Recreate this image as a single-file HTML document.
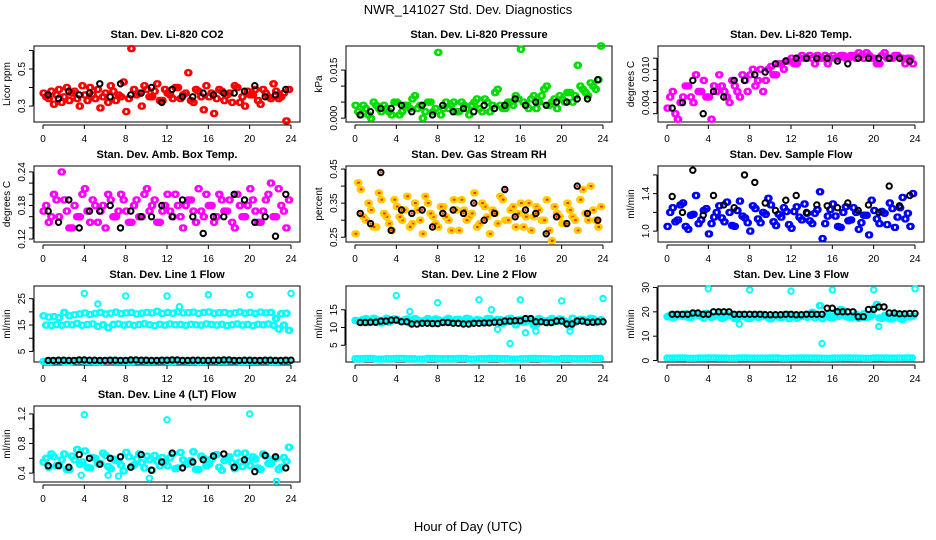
<!DOCTYPE html>
<html><head><meta charset="utf-8"><style>
html,body{margin:0;padding:0;background:#fff;}
svg{display:block;font-family:"Liberation Sans",Arial,sans-serif;}
</style></head><body>
<svg id="chart" width="936" height="540" viewBox="0 0 936 540" xmlns="http://www.w3.org/2000/svg">
<text x="468" y="14" text-anchor="middle" font-size="13">NWR_141027  Std. Dev. Diagnostics</text>
<text x="468" y="531" text-anchor="middle" font-size="13">Hour of Day (UTC)</text>
</svg>
<script>
// ---- data (hours: A series at 0,0.5,...; B series at 0.25,0.75,...; black at 0.5,1.5,...) ----
const co2A=[0.37,0.34,0.31,0.39,0.35,0.33,0.38,0.30,0.36,0.40,0.34,0.29,0.37,0.41,0.33,0.35,0.27,0.61,0.36,0.30,0.39,0.35,0.42,0.33,0.37,0.34,0.40,0.36,0.48,0.32,0.38,0.28,0.35,0.26,0.39,0.33,0.37,0.41,0.32,0.30,0.36,0.39,0.31,0.37,0.34,0.38,0.35,0.22];
const co2B=[0.35,0.38,0.36,0.32,0.40,0.37,0.34,0.41,0.33,0.36,0.39,0.35,0.32,0.38,0.36,0.43,0.34,0.39,0.37,0.41,0.35,0.38,0.33,0.39,0.36,0.40,0.34,0.37,0.33,0.39,0.35,0.41,0.37,0.34,0.38,0.36,0.32,0.40,0.35,0.38,0.36,0.33,0.39,0.35,0.42,0.34,0.37,0.39];
const co2K=[0.36,0.34,0.38,0.36,0.37,0.42,0.35,0.42,0.36,0.37,0.40,0.32,0.39,0.35,0.35,0.37,0.36,0.37,0.37,0.38,0.41,0.35,0.36,0.39];
const prsA=[0.004,0.001,0.003,0.000,0.004,0.002,0.003,0.001,0.005,0.002,0.004,0.006,0.003,0.000,0.005,0.002,0.0205,0.003,0.003,0.005,0.002,0.004,0.001,0.005,0.003,0.006,0.002,0.008,0.004,0.003,0.005,0.007,0.0215,0.004,0.006,0.003,0.007,0.010,0.005,0.003,0.006,0.008,0.005,0.0165,0.009,0.007,0.010,0.012];
const prsB=[0.002,0.004,0.001,0.005,0.003,0.004,0.002,0.005,0.001,0.004,0.003,0.007,0.004,0.002,0.005,0.003,0.001,0.005,0.004,0.002,0.005,0.003,0.004,0.006,0.002,0.005,0.004,0.009,0.003,0.005,0.004,0.006,0.005,0.003,0.007,0.005,0.009,0.004,0.006,0.007,0.005,0.008,0.007,0.010,0.008,0.011,0.009,0.0225];
const prsK=[0.001,0.002,0.003,0.003,0.004,0.002,0.004,0.001,0.004,0.002,0.003,0.002,0.004,0.003,0.004,0.006,0.004,0.005,0.004,0.005,0.005,0.006,0.006,0.012];
const tmpA=[0.003,0.006,0.001,0.005,0.007,0.004,0.006,0.008,0.005,0.007,0.009,0.006,0.004,0.007,0.005,0.008,0.009,0.007,0.010,0.008,0.0105,0.009,0.011,0.0115,0.012,0.011,0.0125,0.012,0.012,0.0125,0.012,0.011,0.0125,0.012,0.0125,0.012,0.0125,0.013,0.012,0.0125,0.012,0.011,0.013,0.012,0.0125,0.012,0.011,0.012];
const tmpB=[0.005,0.002,0.004,0.007,0.005,0.009,0.006,0.005,0.001,0.006,0.007,0.005,0.008,0.006,0.009,0.006,0.010,0.008,0.006,0.010,0.009,0.011,0.010,0.0115,0.011,0.012,0.012,0.0125,0.011,0.012,0.0125,0.012,0.012,0.0125,0.012,0.0125,0.012,0.0125,0.013,0.012,0.011,0.0125,0.012,0.012,0.0125,0.012,0.012,0.011];
const tmpK=[0.003,0.004,0.008,0.002,0.006,0.005,0.008,0.008,0.009,0.0095,0.011,0.0115,0.012,0.012,0.012,0.012,0.0115,0.011,0.012,0.012,0.012,0.012,0.012,0.0115];
const ambA=[0.17,0.15,0.20,0.16,0.19,0.14,0.18,0.16,0.21,0.15,0.18,0.17,0.14,0.19,0.16,0.20,0.17,0.15,0.19,0.16,0.21,0.18,0.15,0.17,0.20,0.16,0.18,0.14,0.19,0.17,0.21,0.16,0.18,0.15,0.20,0.17,0.19,0.14,0.18,0.16,0.21,0.17,0.15,0.19,0.22,0.16,0.18,0.14];
const ambB=[0.18,0.16,0.19,0.24,0.17,0.14,0.16,0.20,0.17,0.19,0.15,0.18,0.20,0.16,0.17,0.19,0.15,0.18,0.16,0.20,0.17,0.19,0.15,0.18,0.17,0.20,0.16,0.18,0.19,0.15,0.17,0.20,0.18,0.16,0.19,0.17,0.15,0.20,0.16,0.18,0.19,0.15,0.17,0.20,0.16,0.21,0.17,0.19];
const ambK=[0.17,0.15,0.19,0.14,0.17,0.17,0.18,0.14,0.17,0.16,0.16,0.18,0.16,0.19,0.16,0.13,0.16,0.16,0.20,0.19,0.15,0.16,0.125,0.20];
const rhA=[0.26,0.39,0.30,0.33,0.28,0.36,0.31,0.27,0.34,0.30,0.37,0.29,0.33,0.26,0.35,0.31,0.28,0.34,0.30,0.36,0.27,0.33,0.31,0.38,0.29,0.34,0.26,0.32,0.37,0.30,0.33,0.28,0.35,0.31,0.27,0.34,0.30,0.36,0.24,0.32,0.29,0.35,0.31,0.27,0.39,0.30,0.33,0.28];
const rhB=[0.41,0.31,0.35,0.28,0.38,0.32,0.29,0.36,0.31,0.33,0.28,0.35,0.30,0.37,0.32,0.29,0.34,0.31,0.27,0.33,0.36,0.30,0.32,0.28,0.35,0.31,0.33,0.29,0.36,0.30,0.34,0.32,0.28,0.35,0.31,0.33,0.30,0.27,0.34,0.31,0.29,0.33,0.30,0.36,0.32,0.40,0.30,0.34];
const rhK=[0.32,0.29,0.44,0.27,0.33,0.32,0.33,0.28,0.32,0.33,0.32,0.35,0.30,0.32,0.39,0.31,0.33,0.32,0.26,0.31,0.29,0.40,0.32,0.30];
const sfA=[1.05,1.25,1.12,1.30,1.02,1.18,1.08,1.22,0.97,1.15,1.27,1.10,1.20,1.05,1.32,1.14,1.00,1.24,1.09,1.18,1.28,1.06,1.15,1.21,1.03,1.26,1.12,1.19,1.08,1.23,0.92,1.16,1.29,1.05,1.20,1.11,1.25,1.02,1.17,0.96,1.22,1.08,1.19,1.30,1.04,1.25,1.13,1.05];
const sfB=[1.20,1.10,1.28,1.05,1.17,1.38,1.12,1.24,1.08,1.20,1.14,1.31,1.06,1.22,1.16,1.09,1.27,1.13,1.20,1.35,1.10,1.18,1.25,1.07,1.21,1.15,1.29,1.11,1.19,1.42,1.08,1.23,1.16,1.04,1.26,1.12,1.20,1.09,1.17,1.33,1.13,1.21,1.07,1.24,1.15,1.36,1.19,1.40];
const sfK=[1.37,1.20,1.65,1.17,1.38,1.28,1.25,1.60,1.52,1.30,1.22,1.33,1.38,1.20,1.28,1.27,1.25,1.30,1.22,1.28,1.20,1.48,1.27,1.38];
const l1U=[18.5,18,18.2,17.8,19.8,18.5,18.9,19.2,19.6,19,19.4,19.8,19.2,19.5,19.9,19.3,19.6,19.8,19.2,19.5,19.8,19.6,20.2,19.4,19.8,19.5,20,19.6,19.7,19.9,19.4,19.8,20,19.5,19.7,19.8,19.3,19.6,20,19.5,19.8,19.4,19.9,19.6,19.8,17.5,19.3,19.5];
const l1L=[15,14.8,15.2,14.9,15.3,15.1,15.6,14.9,15.2,15.4,14.5,15.1,14,15.2,15.4,15,15.3,14.9,15.2,15.5,15.1,14.8,15.3,15,15.4,15.1,15.2,14.9,15.3,15.1,15,15.4,15.2,15,15.3,14.8,15.1,15.4,15,15.2,14.7,15.3,15.1,15.4,14.9,13.5,15,13];
const l1Bot=[1.2,1.4,1.1,1.5,1.3,1.2,1.6,1.3,1.2,1.4,1.3,1.5,1.2,1.4,1.3,1.2,1.5,1.3,1.4,1.2,1.3,1.5,1.2,1.4];
const l1K=[1.6,1.7,1.6,1.8,1.7,1.6,1.7,1.6,1.8,1.7,1.6,1.7,1.8,1.6,1.7,1.6,1.7,1.8,1.6,1.7,1.6,1.7,1.6,1.7];
const l1OutH=[4,5.3,8,12,13.2,16,20,24];
const l1OutV=[27,23,26,26,22,26.5,26.5,27];
const l2A=[12,11.5,12.5,11.8,12.2,11.3,12.6,11.9,12.3,11.6,12.4,11.7,12.1,11.4,12.5,11.8,12.2,11.5,12.6,11.9,12.3,11.6,12.4,11.7,12.1,11.4,12.5,11.8,12.2,11.5,12.6,10.8,12.3,11.6,12.4,10.9,12.1,11.4,12.5,11.8,12.2,11.5,12.6,11.9,12.3,11.6,12.4,11.7];
const l2B=[11.8,12.3,11.4,12.6,11.7,12.1,11.5,12.4,11.9,12.2,11.3,12.5,11.8,12.1,11.6,12.4,11.7,12.2,11.5,12.3,11.9,12.6,11.4,12.2,11.8,12.5,11.6,12.3,11.2,12.4,11.7,12.2,11.5,12.3,10.6,12.5,11.8,12.1,11.6,12.4,11.7,10.2,11.5,12.3,11.9,12.6,11.4,12.2];
const l2Bot=[1.2,1.3,1.1,1.2,1.3,1.2,1.1,1.3,1.2,1.2,1.3,1.1,1.2,1.3,1.2,1.1,1.2,1.3,1.2,1.1,1.3,1.2,1.2,1.3];
const l2K=[11.4,11.5,11.8,12.1,11.6,11.0,11.2,11.1,11.4,11.2,11.0,11.2,11.3,11.5,11.8,11.9,12.5,11.6,11.4,11.8,11.0,11.8,11.5,11.6];
const l2OutH=[4,5.3,8,12,13.2,13.8,15,16,16.5,17.5,20,20.8,24];
const l2OutV=[19,14.5,17,17.8,15,9.5,5.5,17.8,8.5,9,17.5,9,18.2];
const l3A=[18,17.5,19,18.2,17.8,19.3,18.6,17.4,18.9,18.1,19.2,17.7,18.4,17.2,18.8,18.0,17.3,18.7,17.9,18.3,17.1,18.6,17.6,19.0,18.2,17.4,18.7,17.8,19.8,18.4,17.2,18.9,17.6,18.1,20.5,17.8,18.5,17.3,19.2,18.0,21.5,17.5,18.4,17.1,18.8,17.4,18.2,17.9];
const l3B=[18.6,17.9,18.3,19.1,17.6,18.8,18.1,19.4,17.8,18.5,17.3,18.9,18.2,17.6,18.7,17.4,18.3,17.7,18.9,17.5,18.2,17.8,18.6,17.2,18.4,17.9,18.1,18.8,17.5,22.5,18.3,17.6,18.7,21.0,18.2,17.5,18.9,18.1,17.7,18.6,23.0,17.4,18.3,17.1,18.5,16.8,18.0,18.3];
const l3Bot=[1,1.1,0.9,1,1.1,1,0.9,1.1,1,1,1.1,0.9,1,1.1,1,0.9,1,1.1,1,0.9,1.1,1,1,1.1];
const l3K=[19,19,19.5,19,20,20,19,19,19,18.8,18.8,19,18.8,19,19,21.5,20,20,18,21,22,19.5,19.2,19.3];
const l3OutH=[4,7,8,12,15,16,20,20.5,24];
const l3OutV=[29.5,15,29,28.5,7,29,29,14,29.5];
const l4A=[0.55,0.48,0.62,0.5,0.66,0.45,0.58,0.52,0.7,0.47,0.6,0.53,0.64,0.46,0.57,0.51,0.68,0.49,0.59,0.54,0.63,0.44,0.56,0.61,0.5,0.66,0.47,0.58,0.53,0.69,0.45,0.6,0.52,0.64,0.48,0.57,0.62,0.46,0.55,0.67,0.5,0.59,0.45,0.63,0.53,0.6,0.48,0.56];
const l4B=[0.6,0.66,0.5,0.58,0.45,0.63,0.72,0.55,0.48,0.61,0.53,0.67,0.49,0.59,0.56,0.43,0.62,0.51,0.66,0.47,0.58,0.64,0.5,0.55,0.61,0.46,0.68,0.52,0.57,0.45,0.63,0.5,0.59,0.65,0.44,0.6,0.54,0.67,0.49,0.57,0.62,0.47,0.66,0.53,0.59,0.45,0.61,0.75];
const l4K=[0.5,0.5,0.48,0.65,0.6,0.52,0.6,0.62,0.48,0.65,0.44,0.55,0.67,0.47,0.55,0.58,0.63,0.66,0.48,0.58,0.42,0.64,0.62,0.47];
const l4OutH=[4,12,20,3.7,6.3,7.3,10.3,22.6];
const l4OutV=[1.19,1.12,1.2,0.37,0.37,0.36,0.33,0.29];

const panels=[
 {name:'co2',title:'Stan. Dev. Li-820 CO2',ylab:'Licor ppm',c:0,r:0,ymin:0.214,ymax:0.624,ticks:[0.3,0.4,0.5,0.6],labels:['0.3','','0.5',''],col:'#ff0000',A:co2A,B:co2B,K:co2K},
 {name:'pressure',title:'Stan. Dev. Li-820 Pressure',ylab:'kPa',c:1,r:0,ymin:-0.0012,ymax:0.0225,ticks:[0,0.005,0.01,0.015],labels:['0.000','','','0.015'],col:'#00dd00',A:prsA,B:prsB,K:prsK},
 {name:'temp',title:'Stan. Dev. Li-820 Temp.',ylab:'degrees C',c:2,r:0,ymin:0.0005,ymax:0.0142,ticks:[0.002,0.004,0.006,0.008,0.010,0.012],labels:['','0.004','','','0.010',''],col:'#ff00ff',A:tmpA,B:tmpB,K:tmpK},
 {name:'amb-box-temp',title:'Stan. Dev. Amb. Box Temp.',ylab:'degrees C',c:0,r:1,ymin:0.1147,ymax:0.2506,ticks:[0.12,0.14,0.16,0.18,0.20,0.22,0.24],labels:['0.12','','','0.18','','','0.24'],col:'#ff00ff',A:ambA,B:ambB,K:ambK},
 {name:'gas-rh',title:'Stan. Dev. Gas Stream RH',ylab:'percent',c:1,r:1,ymin:0.236,ymax:0.459,ticks:[0.25,0.30,0.35,0.40,0.45],labels:['0.25','','0.35','','0.45'],col:'#ffcc00',dot:'#ff3300',A:rhA,B:rhB,K:rhK},
 {name:'sample-flow',title:'Stan. Dev. Sample Flow',ylab:'ml/min',c:2,r:1,ymin:0.884,ymax:1.695,ticks:[1.0,1.2,1.4,1.6],labels:['1.0','','1.4',''],col:'#0000ff',A:sfA,B:sfB,K:sfK},
 {name:'line1-flow',title:'Stan. Dev. Line 1 Flow',ylab:'ml/min',c:0,r:2,ymin:1.0,ymax:29.8,ticks:[5,10,15,20,25],labels:['5','','15','','25'],col:'#00ffff',A:l1U,B:l1L,bot:l1Bot,K:l1K,oh:l1OutH,ov:l1OutV},
 {name:'line2-flow',title:'Stan. Dev. Line 2 Flow',ylab:'ml/min',c:1,r:2,ymin:0.28,ymax:21.7,ticks:[5,10,15],labels:['5','10','15'],col:'#00ffff',A:l2A,B:l2B,bot:l2Bot,K:l2K,oh:l2OutH,ov:l2OutV},
 {name:'line3-flow',title:'Stan. Dev. Line 3 Flow',ylab:'ml/min',c:2,r:2,ymin:-0.6,ymax:30.6,ticks:[0,10,20,30],labels:['0','10','20','30'],col:'#00ffff',A:l3A,B:l3B,bot:l3Bot,K:l3K,oh:l3OutH,ov:l3OutV},
 {name:'line4-flow',title:'Stan. Dev. Line 4 (LT) Flow',ylab:'ml/min',c:0,r:3,ymin:0.28,ymax:1.307,ticks:[0.4,0.6,0.8,1.0,1.2],labels:['0.4','','0.8','','1.2'],col:'#00ffff',A:l4A,B:l4B,K:l4K,oh:l4OutH,ov:l4OutV}
];
const xTicks=[0,4,8,12,16,20,24];

const NS='http://www.w3.org/2000/svg';
const svg=document.getElementById('chart');
function mk(tag,attrs,parent){const e=document.createElementNS(NS,tag);for(const k in attrs)e.setAttribute(k,attrs[k]);(parent||svg).appendChild(e);return e;}

panels.forEach(p=>{
  const L=34+p.c*312, T=46+p.r*120, W=266, H=76;
  const xs=h=>L+9+h*(W-18)/24;
  const ys=v=>T+H-(v-p.ymin)/(p.ymax-p.ymin)*H;
  const g=mk('g',{});
  
  
  const t=mk('text',{x:L+W/2,y:T-8,'text-anchor':'middle','font-size':'11','font-weight':'bold'},g);
  t.textContent=p.title;
  
  
  const box=mk('rect',{x:L,y:T,width:W,height:H,fill:'none',stroke:'#000','stroke-width':1},g);
  
  
  const xa=mk('g',{},g);
  
  
  mk('line',{x1:xs(0),x2:xs(24),y1:T+H+3,y2:T+H+3,stroke:'#000'},xa);
  xTicks.forEach(h=>{
    mk('line',{x1:xs(h),x2:xs(h),y1:T+H+3,y2:T+H+7,stroke:'#000'},xa);
    const tl=mk('text',{x:xs(h),y:T+H+20,'text-anchor':'middle','font-size':'10'},xa);
    tl.textContent=h;
    
    
  });
  const ya=mk('g',{},g);
  
  
  const tv=p.ticks;
  mk('line',{x1:L-1,x2:L-1,y1:ys(tv[0]),y2:ys(tv[tv.length-1]),stroke:'#000'},ya);
  tv.forEach((v,i)=>{
    mk('line',{x1:L-5,x2:L-1,y1:ys(v),y2:ys(v),stroke:'#000'},ya);
    if(p.labels[i]){
      const yl=mk('text',{x:0,y:0,'text-anchor':'middle','font-size':'10',transform:`translate(${L-9},${ys(v)}) rotate(-90)`},ya);
      yl.textContent=p.labels[i];
      
      
    }
  });
  const yt=mk('text',{x:0,y:0,'text-anchor':'middle','font-size':'10',transform:`translate(${L-24},${T+H/2}) rotate(-90)`},g);
  yt.textContent=p.ylab;
  
  
  const pts=mk('g',{fill:'none','stroke-width':2},g);
  
  
  function pt(h,v,color,name){
    const c=mk('circle',{cx:xs(h).toFixed(1),cy:ys(v).toFixed(1),r:2.7,stroke:color},pts);
    
    
    if(p.dot){mk('circle',{cx:xs(h).toFixed(1),cy:ys(v).toFixed(1),r:1.2,fill:p.dot,stroke:'none'},pts);}
  }
  // colored band: each reading plotted with its neighbouring sample for a dense band
  p.A.forEach((v,i)=>{pt(i*0.5,v,p.col,'point');pt(i*0.5+0.12,v,p.col,'point');});
  p.B.forEach((v,i)=>{pt(0.25+i*0.5,v,p.col,'point');pt(0.37+i*0.5,v,p.col,'point');});
  if(p.bot){p.bot.forEach((v,i)=>{pt(i,v,p.col,'point');pt(i+0.25,v,p.col,'point');pt(i+0.5,v,p.col,'point');pt(i+0.75,v,p.col,'point');});}
  if(p.oh){p.oh.forEach((h,i)=>pt(h,p.ov[i],p.col,'outlier-point'));}
  p.K.forEach((v,i)=>pt(0.5+i,v,'#000','black-point'));
  if(p.bot){p.K.forEach((v,i)=>pt(1+i,v,'#000','black-point'));}
});
</script>
</body></html>
